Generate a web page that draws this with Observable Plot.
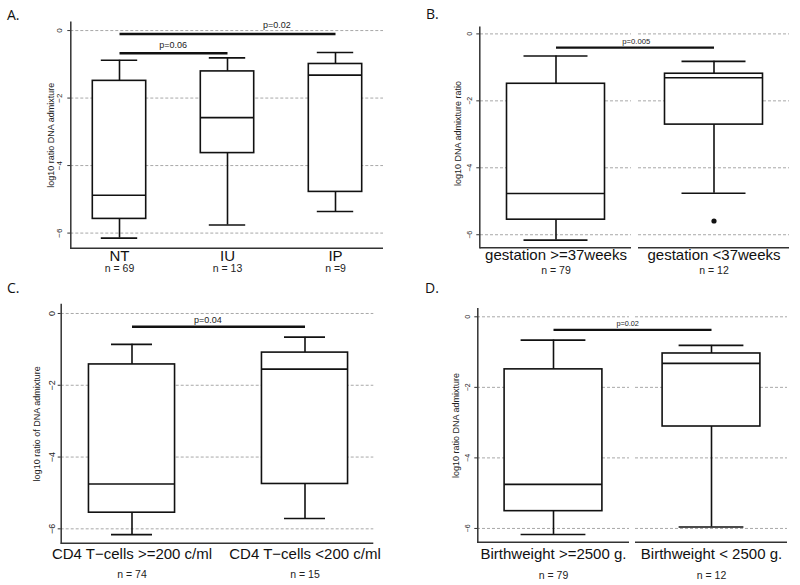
<!DOCTYPE html>
<html><head><meta charset="utf-8">
<script src="https://cdn.jsdelivr.net/npm/d3@7"></script>
<script src="https://cdn.jsdelivr.net/npm/@observablehq/plot@0.6"></script>
<style>
body{margin:0;background:#fff;}
#root{position:relative;width:800px;height:585px;overflow:hidden;background:#fff;}
.panel{position:absolute;}
.letter{position:absolute;font-family:"Open Sans",sans-serif;font-size:14px;line-height:14px;color:#111;}
</style></head>
<body><div id="root"></div>
<script>
// ---------- DATA ----------
const yTicks = [0, -2, -4, -6];

// Panel A
const catsA = ["NT", "IU", "IP"];
const nA = ["n = 69", "n = 13", "n =9"];
const hiA = [-0.88, -0.81, -0.65];
const q3A = [-1.49, -1.21, -0.99];
const medA = [-4.88, -2.58, -1.32];
const q1A = [-5.58, -3.63, -4.78];
const loA = [-6.15, -5.76, -5.36];
const outA = [];
const pTextA = ["p=0.06", "p=0.02"];
const pFromA = ["NT", "NT"];
const pToA = ["IU", "IP"];
const pYA = [-0.67, -0.10];
const pAtA = [1.5, 2.46];
const yLabelA = "log10 ratio DNA admixture";

// Panel B
const catsB = ["gestation >=37weeks", "gestation <37weeks"];
const nB = ["n = 79", "n = 12"];
const hiB = [-0.66, -0.82];
const q3B = [-1.49, -1.19];
const medB = [-4.77, -1.31];
const q1B = [-5.55, -2.71];
const loB = [-6.16, -4.76];
const outB = [{cat: "gestation <37weeks", v: -5.59}];
const pTextB = ["p=0.005"];
const pFromB = ["gestation >=37weeks"];
const pToB = ["gestation <37weeks"];
const pYB = [-0.41];
const pAtB = [1.51];
const yLabelB = "log10 DNA admixture ratio";

// Panel C
const catsC = ["CD4 T\u2212cells >=200 c/ml", "CD4 T\u2212cells <200 c/ml"];
const nC = ["n = 74", "n = 15"];
const hiC = [-0.86, -0.66];
const q3C = [-1.42, -1.09];
const medC = [-4.75, -1.55];
const q1C = [-5.55, -4.75];
const loC = [-6.16, -5.71];
const outC = [];
const pTextC = ["p=0.04"];
const pFromC = [catsC[0]];
const pToC = [catsC[1]];
const pYC = [-0.37];
const pAtC = [1.44];
const yLabelC = "log10 ratio of DNA admixture";

// Panel D
const catsD = ["Birthweight >=2500 g.", "Birthweight < 2500 g."];
const nD = ["n = 79", "n = 12"];
const hiD = [-0.66, -0.81];
const q3D = [-1.49, -1.04];
const medD = [-4.75, -1.32];
const q1D = [-5.51, -3.11];
const loD = [-6.17, -5.96];
const outD = [];
const pTextD = ["p=0.02"];
const pFromD = [catsD[0]];
const pToD = [catsD[1]];
const pYD = [-0.37];
const pAtD = [1.47];
const yLabelD = "log10 ratio DNA admixture";

// ---------- LAYOUT ----------
const FONT = "Liberation Sans, Arial, Helvetica, sans-serif";
const INK = "#111";

function makePanel(d, L) {
  const boxes = d.cats.map((c, i) => ({cat: c, lo: d.lo[i], q1: d.q1[i], med: d.med[i], q3: d.q3[i], hi: d.hi[i], n: d.n[i]}));
  const pbars = d.pText.map((t, i) => ({text: t, from: d.pFrom[i], to: d.pTo[i], y: d.pY[i],
    shift: (d.pAt[i] - (d.cats.indexOf(d.pTo[i]) + 1)) * L.step}));
  const gridStyle = {stroke: "#a8a8a8", strokeWidth: 1, strokeDasharray: "3,2"};
  const axisStyle = {stroke: "#333", strokeWidth: 1.5};
  const yMin = L.yDomain[0];
  const grid = L.split
    ? Plot.tickY(d.cats.flatMap(c => yTicks.map(t => ({cat: c, t}))), {x: "cat", y: "t", ...gridStyle})
    : Plot.ruleY(yTicks, gridStyle);
  const base = L.split
    ? Plot.tickY(d.cats, {x: c => c, y: () => yMin, ...axisStyle})
    : Plot.ruleY([yMin], axisStyle);
  const line = {stroke: INK, strokeWidth: 1.6};
  const pLabels = pbars.map(p => Plot.text([p], {x: "to", y: "y", text: "text", dx: p.shift, dy: L.pDy,
    fontSize: L.pFont, fill: "#222", lineAnchor: "middle"}));
  return Plot.plot({
    width: 400, height: L.height,
    marginLeft: L.ml, marginRight: L.mr, marginTop: L.mt, marginBottom: L.mb,
    style: {fontFamily: FONT, background: "white"},
    x: {type: "band", domain: d.cats, range: L.xRange, paddingInner: L.pi, paddingOuter: 0, axis: null},
    y: {domain: L.yDomain},
    marks: [
      grid,
      base,
      Plot.frame({anchor: "left", ...axisStyle}),
      Plot.axisY({ticks: yTicks, tickSize: 3, tickFormat: () => "", label: null, stroke: "#333"}),
      Plot.text(yTicks, {y: t => t, text: t => t === 0 ? "0" : "\u2212" + Math.abs(t), frameAnchor: "left",
        rotate: -90, dx: -L.tickDx, fontSize: L.tickFont, fill: "#222", textAnchor: "middle", lineAnchor: "middle"}),
      Plot.text([d.yLabel], {text: t => t, frameAnchor: "left", rotate: -90, dx: -L.titleDx, dy: L.titleDy || 0,
        fontSize: 9, fill: "#222", textAnchor: "middle", lineAnchor: "middle"}),
      Plot.ruleX(boxes, {x: "cat", y1: "lo", y2: "q1", ...line}),
      Plot.ruleX(boxes, {x: "cat", y1: "q3", y2: "hi", ...line}),
      Plot.tickY(boxes, {x: "cat", y: "lo", insetLeft: L.capInset, insetRight: L.capInset, ...line}),
      Plot.tickY(boxes, {x: "cat", y: "hi", insetLeft: L.capInset, insetRight: L.capInset, ...line}),
      Plot.barY(boxes, {x: "cat", y1: "q1", y2: "q3", fill: "white", insetLeft: L.boxInset, insetRight: L.boxInset, ...line}),
      Plot.tickY(boxes, {x: "cat", y: "med", insetLeft: L.boxInset, insetRight: L.boxInset, ...line}),
      Plot.dot(d.out, {x: "cat", y: "v", r: 2.6, fill: INK, stroke: "none"}),
      Plot.link(pbars, {x1: "from", x2: "to", y1: "y", y2: "y", stroke: INK, strokeWidth: 2.4}),
      ...pLabels,
      Plot.text(boxes, {x: "cat", text: "cat", frameAnchor: "bottom", lineAnchor: "top", dy: L.catDy, fontSize: 15, fill: INK}),
      Plot.text(boxes, {x: "cat", text: "n", frameAnchor: "bottom", lineAnchor: "top", dy: L.nDy, fontSize: 10.5, fill: "#222"})
    ]
  });
}

const panels = [
  {d: {cats: catsA, n: nA, hi: hiA, q3: q3A, med: medA, q1: q1A, lo: loA, out: outA, pText: pTextA, pFrom: pFromA, pTo: pToA, pY: pYA, pAt: pAtA, yLabel: yLabelA},
   L: {left: 0, top: 0, height: 290, ml: 70.3, mr: 17, mt: 21.7, mb: 42.3, yDomain: [-6.448, 0.248], xRange: [64.2, 390], pi: 0, step: 108.6,
       boxInset: 27.3, capInset: 35.8, split: false, tickDx: 11, tickFont: 8, titleDx: 20, pFont: 9, pDy: -8.5, catDy: 2, nDy: 16.8}},
  {d: {cats: catsB, n: nB, hi: hiB, q3: q3B, med: medB, q1: q1B, lo: loB, out: outB, pText: pTextB, pFrom: pFromB, pTo: pToB, pY: pYB, pAt: pAtB, yLabel: yLabelB},
   L: {left: 400, top: 0, height: 290, ml: 79.3, mr: 10.7, mt: 26.7, mb: 42.7, yDomain: [-6.39, 0.2], xRange: [79.3, 389.3], pi: 0.045, step: 158.6,
       boxInset: 26.5, capInset: 43.5, split: true, tickDx: 9.7, tickFont: 7, titleDx: 22, titleDy: -4, pFont: 7.7, pDy: -5.8, catDy: 2, nDy: 18.4}},
  {d: {cats: catsC, n: nC, hi: hiC, q3: q3C, med: medC, q1: q1C, lo: loC, out: outC, pText: pTextC, pFrom: pFromC, pTo: pToC, pY: pYC, pAt: pAtC, yLabel: yLabelC},
   L: {left: 0, top: 290, height: 295, ml: 60.7, mr: 26.7, mt: 14, mb: 42.3, yDomain: [-6.40, 0.25], xRange: [43.9, 391.1], pi: 0, step: 173.6,
       boxInset: 43.45, capInset: 66, split: false, tickDx: 9.3, tickFont: 9, titleDx: 24, pFont: 9, pDy: -7, catDy: 5.6, nDy: 27.3}},
  {d: {cats: catsD, n: nD, hi: hiD, q3: q3D, med: medD, q1: q1D, lo: loD, out: outD, pText: pTextD, pFrom: pFromD, pTo: pToD, pY: pYD, pAt: pAtD, yLabel: yLabelD},
   L: {left: 400, top: 290, height: 295, ml: 77.3, mr: 12.7, mt: 18.3, mb: 43.3, yDomain: [-6.39, 0.227], xRange: [77.3, 387.3], pi: 0.04, step: 158.2,
       boxInset: 27.1, capInset: 43.6, split: true, tickDx: 10, tickFont: 7, titleDx: 21.3, pFont: 7.3, pDy: -6, catDy: 6, nDy: 29.3}}
];

const root = document.getElementById("root");
for (const {d, L} of panels) {
  const svg = makePanel(d, L);
  svg.classList.add("panel");
  svg.style.left = L.left + "px";
  svg.style.top = L.top + "px";
  root.appendChild(svg);
}
const letters = [["A.", 7, 7.6], ["B.", 426, 6.5], ["C.", 7, 280.6], ["D.", 425, 280.6]];
for (const [t, x, y] of letters) {
  const el = document.createElement("div");
  el.className = "letter";
  el.textContent = t;
  el.style.left = x + "px";
  el.style.top = y + "px";
  root.appendChild(el);
}
</script>
</body></html>
